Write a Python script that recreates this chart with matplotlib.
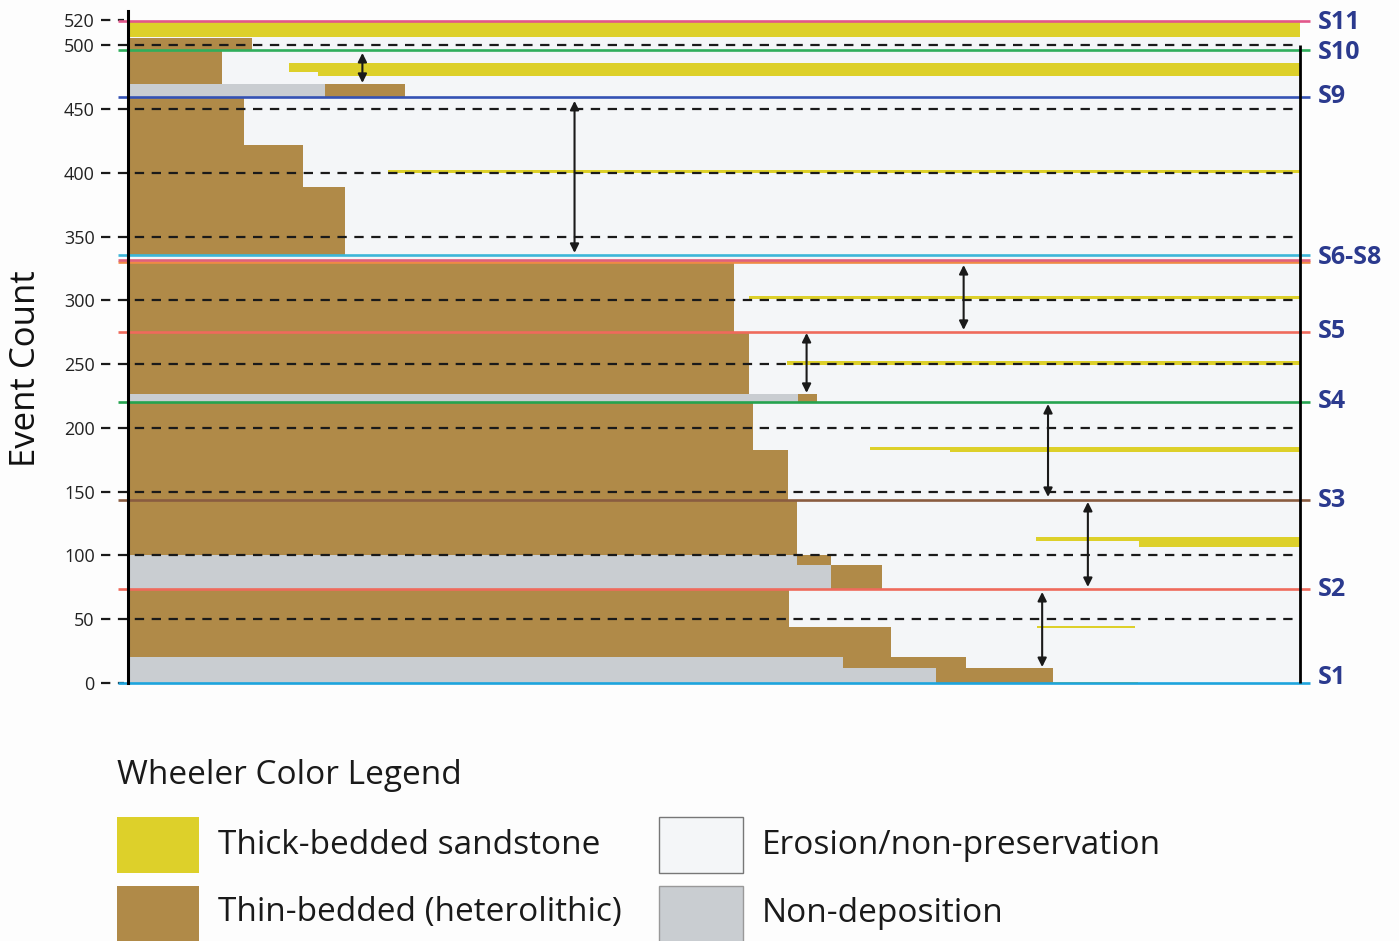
import matplotlib
matplotlib.use("Agg")
import matplotlib.pyplot as plt
from matplotlib.patches import Rectangle

# ---------------- data (event count vs. distance along section, %) ----------------
# Thick-bedded sandstone blocks
thick_bottom = [0.0, 43.2, 111.4, 106.7, 183.1, 181.2, 249.4, 301.2, 399.6, 479.2, 476.1, 506.7]
thick_top    = [1.0, 44.6, 114.5, 111.4, 185.1, 185.1, 252.5, 303.5, 402.0, 486.3, 479.2, 518.4]
thick_x0     = [78.9, 77.6, 77.5, 86.3, 63.3, 70.1, 56.2, 53.0, 22.2, 13.7, 16.2, 0.0]
thick_x1     = [86.2, 85.9, 100, 100, 70.1, 100, 100, 100, 100, 100, 100, 100]

# Thin-bedded (heterolithic) blocks
thin_bottom = [43.9, 20.4, 11.8, 0.0, 73.7, 92.5, 100.4, 143.5, 182.7, 220.4, 226.7,
               275.3, 335.7, 389.0, 422.0, 459.6, 469.8, 496.5]
thin_top    = [73.7, 43.9, 20.4, 11.8, 92.5, 100.4, 143.5, 182.7, 220.4, 226.7, 275.3,
               330.2, 389.0, 422.0, 459.6, 469.8, 495.5, 505.9]
thin_x0     = [0.0, 0.0, 61.0, 68.9, 60.0, 57.1, 0.0, 0.0, 0.0, 57.2, 0.0,
               0.0, 0.0, 0.0, 0.0, 16.8, 0.0, 0.0]
thin_x1     = [56.4, 65.1, 71.5, 78.9, 64.3, 60.0, 57.1, 56.3, 53.3, 58.8, 53.0,
               51.7, 18.5, 14.9, 9.9, 23.6, 8.0, 10.6]

# Non-deposition blocks
nondep_bottom = [0.0, 11.8, 73.7, 92.5, 220.4, 459.6]
nondep_top    = [11.8, 20.4, 92.5, 100.4, 226.7, 469.8]
nondep_x0     = [0.0, 0.0, 0.0, 0.0, 0.0, 0.0]
nondep_x1     = [68.9, 61.0, 60.0, 57.1, 57.2, 16.8]

# Erosion / non-preservation background extent
erosion_top = 519.5

# Sequence boundaries (surfaces)
surface_values = [0.0, 73.7, 143.5, 220.4, 275.3, 330.2, 331.8, 335.7, 459.6, 496.5, 519.5]
surface_colors = ["#1da4dd", "#ef6a5c", "#8a5c40", "#25a34f", "#ef6a5c", "#ef8a45",
                  "#e0607c", "#3db6d8", "#3452b4", "#2fae5c", "#e2578a"]
label_names  = ["S1", "S2", "S3", "S4", "S5", "S6-S8", "S9", "S10", "S11"]
label_values = [4.5, 73.0, 143.0, 220.4, 275.3, 333.5, 459.6, 494.5, 518.0]

# Accommodation arrows (x position, lower, upper)
arrow_x  = [20.0, 38.1, 71.3, 57.9, 78.5, 81.9, 78.0]
arrow_y0 = [470.6, 337.3, 276.9, 227.5, 145.9, 75.3, 12.5]
arrow_y1 = [494.1, 456.5, 327.8, 274.5, 218.8, 142.0, 71.4]

tick_values = [0, 50, 100, 150, 200, 250, 300, 350, 400, 450, 500, 520]
tick_labels = ["0", "50", "100", "150", "200", "250", "300", "350", "400", "450", "500", "520"]
grid_values = [50, 100, 150, 200, 250, 300, 350, 400, 450, 500]

legend_title = "Wheeler Color Legend"
legend_labels = ["Thick-bedded sandstone", "Thin-bedded (heterolithic)",
                 "Erosion/non-preservation", "Non-deposition"]

# ---------------- styling ----------------
C_THICK = "#ddd02a"
C_THIN = "#b08a48"
C_NONDEP = "#c9cdd1"
C_EROSION = "#f4f6f8"
C_LABEL = "#2b3a8e"
FONT = ["Open Sans", "DejaVu Sans"]
plt.rcParams["font.family"] = FONT

W, H = 1399, 941
fig = plt.figure(figsize=(W / 100, H / 100), dpi=100)
fig.patch.set_facecolor("#fdfdfd")

ax = fig.add_axes([128 / W, (H - 683) / H, 1172 / W, 672 / H])
ax.set_xlim(0, 100)
ax.set_ylim(0, 527)
ax.set_facecolor("#fdfdfd")


def blocks(bottom, top, x0, x1, color, z):
    ax.barh(bottom, [b - a for a, b in zip(x0, x1)], left=x0,
            height=[t - b for b, t in zip(bottom, top)], align="edge",
            color=color, linewidth=0, zorder=z)


ax.barh([0], [100], left=[0], height=[erosion_top], align="edge",
        color=C_EROSION, linewidth=0, zorder=0)
blocks(nondep_bottom, nondep_top, nondep_x0, nondep_x1, C_NONDEP, 1)
blocks(thin_bottom, thin_top, thin_x0, thin_x1, C_THIN, 2)
blocks(thick_bottom, thick_top, thick_x0, thick_x1, C_THICK, 2)

# dashed reference lines
DASH = (4.2, 3.4)
for v in grid_values:
    ax.plot([-2.3, 100], [v, v], color="#1a1a1a", lw=1.6, dashes=DASH,
            clip_on=False, zorder=3)
for v in [0, 520]:
    ax.plot([-2.3, -0.3], [v, v], color="#1a1a1a", lw=1.6, dashes=DASH,
            clip_on=False, zorder=3)

# surfaces
for v, c in zip(surface_values, surface_colors):
    ax.plot([-0.85, 100.85], [v, v], color=c, lw=1.9, clip_on=False, zorder=4,
            solid_capstyle="butt")

for name, v in zip(label_names, label_values):
    ax.text(101.5, v, name, color=C_LABEL, fontsize=18, fontweight="bold",
            ha="left", va="center", clip_on=False)

# arrows
for x, y0, y1 in zip(arrow_x, arrow_y0, arrow_y1):
    ax.annotate("", xy=(x, y1), xytext=(x, y0),
                arrowprops=dict(arrowstyle="<|-|>", color="#1a1a1a", lw=1.5,
                                mutation_scale=13, shrinkA=0, shrinkB=0),
                zorder=5)

# spines / axes
for s in ["top", "bottom", "right"]:
    ax.spines[s].set_visible(False)
ax.spines["left"].set_color("black")
ax.spines["left"].set_linewidth(2.2)
ax.spines["left"].set_zorder(6)
ax.plot([100, 100], [0, 500], color="black", lw=2.0, zorder=6, clip_on=False,
        solid_capstyle="butt")
ax.set_xticks([])
ax.set_yticks(tick_values)
ax.set_yticklabels(tick_labels)
ax.tick_params(axis="y", length=0, pad=24, labelsize=13, labelcolor="#222222")
fig.text(26 / W, 1 - 369 / H, "Event Count", rotation=90, fontsize=25,
         ha="center", va="center", color="#111111")

# legend
fig.text(117 / W, 1 - 776 / H, legend_title, fontsize=24, ha="left", va="center",
         color="#1a1a1a")
boxes = [(117, 817, C_THICK, None), (117, 886, C_THIN, None),
         (659, 817, C_EROSION, "#777777"), (659, 886, C_NONDEP, "#999999")]
for (bx, by, col, ec) in boxes:
    hgt = 56 if by < 880 else 60
    fig.add_artist(Rectangle((bx / W, 1 - (by + hgt) / H), (84 if ec else 82) / W, hgt / H,
                             transform=fig.transFigure, facecolor=col,
                             edgecolor=ec if ec else "none", lw=1.0))
text_pos = [(218, 845), (218, 913), (762, 845), (762, 913)]
for (tx, ty), lab in zip(text_pos, legend_labels):
    fig.text(tx / W, 1 - ty / H, lab, fontsize=24, ha="left", va="center",
             color="#1a1a1a")

fig.savefig("out.png", dpi=100, facecolor=fig.get_facecolor())
